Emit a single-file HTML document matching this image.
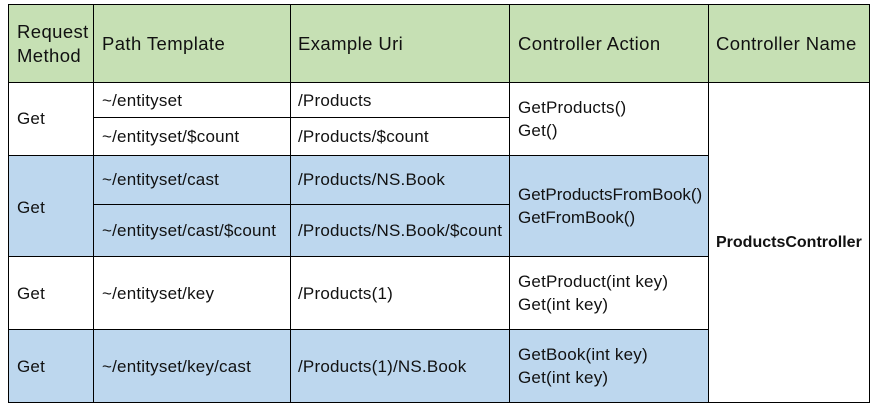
<!DOCTYPE html>
<html><head><style>
body{margin:0;width:876px;height:409px;background:#fff;position:relative;font-family:"Liberation Sans",sans-serif;color:#111;overflow:hidden}
.r{position:absolute}
.h{position:absolute;background:#000}
.t{position:absolute;font-size:17px;letter-spacing:0.2px;line-height:23px;white-space:nowrap}
.hd{font-size:18.5px;letter-spacing:0.4px;line-height:24px}
</style></head><body>
<div class="r" style="left:8px;top:4px;width:861px;height:78px;background:#c6e0b4"></div>
<div class="r" style="left:8px;top:155px;width:700px;height:101px;background:#bdd7ee"></div>
<div class="r" style="left:8px;top:329px;width:700px;height:73px;background:#bdd7ee"></div>
<div class="h" style="left:8px;top:4px;width:1px;height:399px"></div>
<div class="h" style="left:93px;top:4px;width:1px;height:399px"></div>
<div class="h" style="left:290px;top:4px;width:1px;height:399px"></div>
<div class="h" style="left:509px;top:4px;width:1px;height:399px"></div>
<div class="h" style="left:708px;top:4px;width:1px;height:399px"></div>
<div class="h" style="left:869px;top:4px;width:1px;height:399px"></div>
<div class="h" style="left:8px;top:4px;width:862px;height:1px"></div>
<div class="h" style="left:8px;top:82px;width:862px;height:1px"></div>
<div class="h" style="left:93px;top:117px;width:416px;height:1px"></div>
<div class="h" style="left:8px;top:155px;width:701px;height:1px"></div>
<div class="h" style="left:93px;top:204px;width:416px;height:1px"></div>
<div class="h" style="left:8px;top:256px;width:701px;height:1px"></div>
<div class="h" style="left:8px;top:329px;width:701px;height:1px"></div>
<div class="h" style="left:8px;top:402px;width:862px;height:1px"></div>
<div class="t hd" style="left:17px;top:20px">Request<br>Method</div>
<div class="t hd" style="left:102px;top:32px">Path Template</div>
<div class="t hd" style="left:298px;top:32px">Example Uri</div>
<div class="t hd" style="left:518px;top:32px">Controller Action</div>
<div class="t hd" style="left:716px;top:32px">Controller Name</div>
<div class="t" style="left:17px;top:107px">Get</div>
<div class="t" style="left:102px;top:89px">~/entityset</div>
<div class="t" style="left:298px;top:89px">/Products</div>
<div class="t" style="left:102px;top:125px">~/entityset/$count</div>
<div class="t" style="left:298px;top:125px">/Products/$count</div>
<div class="t" style="left:518px;top:96px">GetProducts()<br>Get()</div>
<div class="t" style="left:17px;top:196px">Get</div>
<div class="t" style="left:102px;top:168px">~/entityset/cast</div>
<div class="t" style="left:298px;top:168px">/Products/NS.Book</div>
<div class="t" style="left:102px;top:219px">~/entityset/cast/$count</div>
<div class="t" style="left:298px;top:219px">/Products/NS.Book/$count</div>
<div class="t" style="left:518px;top:183px;letter-spacing:0">GetProductsFromBook()<br>GetFromBook()</div>
<div class="t" style="left:17px;top:282px">Get</div>
<div class="t" style="left:102px;top:282px">~/entityset/key</div>
<div class="t" style="left:298px;top:282px">/Products(1)</div>
<div class="t" style="left:518px;top:270px">GetProduct(int key)<br>Get(int key)</div>
<div class="t" style="left:17px;top:355px">Get</div>
<div class="t" style="left:102px;top:355px">~/entityset/key/cast</div>
<div class="t" style="left:298px;top:355px">/Products(1)/NS.Book</div>
<div class="t" style="left:518px;top:343px">GetBook(int key)<br>Get(int key)</div>
<div class="t" style="left:716px;top:231px;font-weight:bold;font-size:16px;letter-spacing:0">ProductsController</div>
</body></html>
